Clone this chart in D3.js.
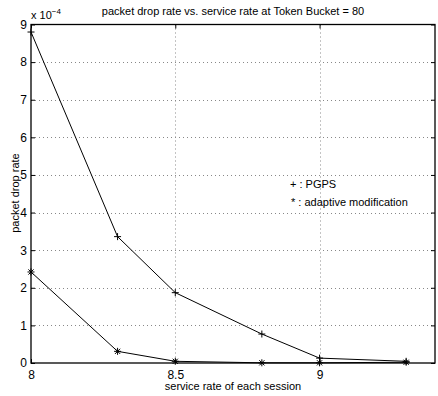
<!DOCTYPE html>
<html>
<head>
<meta charset="utf-8">
<script src="https://cdn.jsdelivr.net/npm/d3@7"></script>
<style>
  body { margin: 0; background: #fff; }
  text { font-family: "Liberation Sans", Arial, sans-serif; fill: #000; }
</style>
</head>
<body>
<div id="chart"></div>
<script>
// data (values in units of 1e-4)
var rates = [8.0, 8.3, 8.5, 8.8, 9.0, 9.3];
var pgps = [8.8, 3.36, 1.87, 0.77, 0.13, 0.045];
var adaptive = [2.42, 0.31, 0.045, 0.005, 0.005, 0.02];
var xTicks = [8, 8.5, 9];
var yTicks = [0, 1, 2, 3, 4, 5, 6, 7, 8, 9];

var w = 438, h = 396;
var pLeft = 31, pRight = 435, pTop = 24.5, pBottom = 363;

var svg = d3.select("#chart").append("svg")
  .attr("width", w).attr("height", h);

var x = d3.scaleLinear().domain([8, 9.4]).range([pLeft, pRight]);
var y = d3.scaleLinear().domain([0, 9]).range([pBottom, pTop]);

// grid
svg.append("g").selectAll("line").data(xTicks.slice(1)).enter().append("line")
  .attr("x1", function(d) { return Math.round(x(d)) + 0.5; })
  .attr("x2", function(d) { return Math.round(x(d)) + 0.5; })
  .attr("y1", pTop).attr("y2", pBottom)
  .attr("stroke", "#888").attr("stroke-dasharray", "1,3");
svg.append("g").selectAll("line").data(yTicks.slice(1, -1)).enter().append("line")
  .attr("y1", function(d) { return Math.round(y(d)) + 0.5; })
  .attr("y2", function(d) { return Math.round(y(d)) + 0.5; })
  .attr("x1", pLeft).attr("x2", pRight)
  .attr("stroke", "#888").attr("stroke-dasharray", "1,3");

// axes (ticks inside, box)
var fmt = function(d) { return String(d); };
var xAxisB = d3.axisBottom(x).tickValues(xTicks).tickSize(-4).tickPadding(7).tickFormat(fmt);
var xAxisT = d3.axisTop(x).tickValues(xTicks).tickSize(-4).tickFormat("");
var yAxisL = d3.axisLeft(y).tickValues(yTicks).tickSize(-4).tickPadding(4).tickFormat(fmt);
var yAxisR = d3.axisRight(y).tickValues(yTicks).tickSize(-4).tickFormat("");

function style(g) {
  g.select(".domain").remove();
  g.selectAll("line").attr("stroke", "#000");
  g.selectAll("text").style("font-size", "12px").attr("fill", "#000")
    .style("font-family", "'Liberation Sans', Arial, sans-serif");
}
svg.append("g").attr("transform", "translate(0," + pBottom + ")").call(xAxisB).call(style);
svg.append("g").attr("transform", "translate(0," + pTop + ")").call(xAxisT).call(style);
svg.append("g").attr("transform", "translate(" + pLeft + ",0)").call(yAxisL).call(style);
svg.append("g").attr("transform", "translate(" + pRight + ",0)").call(yAxisR).call(style);

svg.append("rect")
  .attr("x", pLeft).attr("y", pTop)
  .attr("width", pRight - pLeft).attr("height", pBottom - pTop)
  .attr("fill", "none").attr("stroke", "#000").attr("stroke-width", 1.3);

// lines
var line = d3.line()
  .x(function(d, i) { return x(rates[i]); })
  .y(function(d) { return y(d); });

[pgps, adaptive].forEach(function(s) {
  svg.append("path").datum(s).attr("d", line)
    .attr("fill", "none").attr("stroke", "#000").attr("stroke-width", 1);
});

// markers
svg.append("g").selectAll("path").data(pgps).enter().append("path")
  .attr("transform", function(d, i) { return "translate(" + x(rates[i]) + "," + y(d) + ")"; })
  .attr("d", "M-3.5,0H3.5M0,-3.5V3.5")
  .attr("stroke", "#000").attr("stroke-width", 1);
svg.append("g").selectAll("path").data(adaptive).enter().append("path")
  .attr("transform", function(d, i) { return "translate(" + x(rates[i]) + "," + y(d) + ")"; })
  .attr("d", "M-3.5,0H3.5M0,-3.5V3.5M-2.6,-2.6L2.6,2.6M-2.6,2.6L2.6,-2.6")
  .attr("stroke", "#000").attr("stroke-width", 1);

// texts
svg.append("text").attr("x", 233).attr("y", 15).attr("text-anchor", "middle")
  .style("font-size", "11px").text("packet drop rate vs. service rate at Token Bucket = 80");
var expo = svg.append("text").attr("x", 31).attr("y", 19).style("font-size", "11px");
expo.append("tspan").text("x 10");
expo.append("tspan").attr("dy", -5).style("font-size", "8px").text("\u22124");

svg.append("text").attr("x", 233).attr("y", 390).attr("text-anchor", "middle")
  .style("font-size", "11px").text("service rate of each session");
svg.append("text").attr("transform", "translate(19,193) rotate(-90)").attr("text-anchor", "middle")
  .style("font-size", "11px").text("packet drop rate");

svg.append("text").attr("x", 290).attr("y", 188).style("font-size", "11px").text("+ : PGPS");
svg.append("text").attr("x", 291).attr("y", 206).style("font-size", "11px").text("* : adaptive modification");
</script>
</body>
</html>
